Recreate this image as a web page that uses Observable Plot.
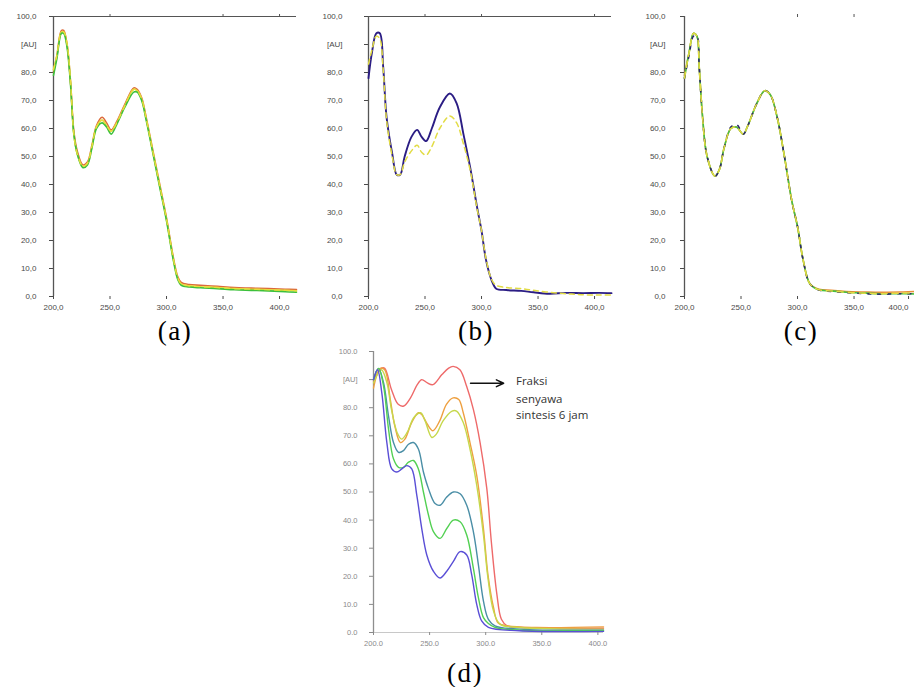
<!DOCTYPE html>
<html>
<head>
<meta charset="utf-8">
<script src="https://cdn.jsdelivr.net/npm/d3@7"></script>
<script src="https://cdn.jsdelivr.net/npm/@observablehq/plot@0.6"></script>
<style>
  html, body { margin: 0; padding: 0; background: #fff; overflow: hidden; }
  #page { position: relative; width: 914px; height: 687px; overflow: hidden; background: #fff; }
  .panel { position: absolute; overflow: hidden; }
  .panel svg { max-width: none !important; }
  .cap { position: absolute; font-family: "Liberation Serif", "Times New Roman", serif; font-size: 27px; color: #000; transform: translate(-50%, -50%); letter-spacing: 1.5px; white-space: nowrap; }
</style>
</head>
<body>
<div id="page">
  <div class="panel" id="pa" style="left:0px;top:0px;width:300px;height:320px"></div>
  <div class="panel" id="pb" style="left:310px;top:0px;width:305px;height:320px"></div>
  <div class="panel" id="pc" style="left:625px;top:0px;width:289px;height:320px"></div>
  <div class="panel" id="pd" style="left:320px;top:344px;width:296px;height:306px"></div>
  <div class="cap" style="left:175px;top:331px">(a)</div>
  <div class="cap" style="left:476px;top:331px">(b)</div>
  <div class="cap" style="left:801px;top:331px">(c)</div>
  <div class="cap" style="left:465px;top:673px">(d)</div>
</div>
<script>
// ---------- tick values ----------
const yTicks = [0, 10, 20, 30, 40, 50, 60, 70, 80, 90, 100];
const xTicks = [200, 250, 300, 350, 400];
const auTick = 90;

// ---------- panel (a) ----------
const a_wl     = [200,203,207,209,212,215,218,221,226,230,234,238,243,247,251,256,263,271,274,278,282,288,294,300,306,310,313,320,330,345,360,375,390,405,415];
const a_red    = [80,86,95,95,90,77,59,52,47,48,54,61,64,62,59.5,62.5,68.5,74.5,74,71,64,52,40,28,14,7,5,4.3,4,3.6,3.2,3,2.8,2.6,2.5];
const a_yellow = [81,86,94.5,94.5,90,77,58,51,46.5,47.5,53.5,60.5,63,61,59,62,68,74,73.5,70.5,63.5,51.5,39.5,27.5,13.5,6.5,4.5,3.8,3.5,3.2,2.8,2.6,2.4,2.2,2];
const a_green  = [79,85,94,94,89,76,58,51,46,47,53,60,62,60.5,58,61.5,67.5,73,73,70,63,51,39,27,13,6,4,3.4,3.1,2.8,2.4,2.2,2.0,1.7,1.5];

// ---------- panel (b) ----------
const b_wl     = [200,203,207,210,213,216,221,225,228,232,238,243,247,251,256,263,272,278,284,290,296,300,304,309,313,322,335,346,360,375,390,404,415];
const b_blue   = [78,87,94,94,82,64,51,43.5,43.5,50,57,59.5,57,55.5,60,67.5,72.5,69,58,46,32,23.5,13,5.7,2.8,2.3,2,1.5,1,1.3,1.2,1.3,1.2];
const b_yellow = [83,88,93,92,81,63,50,43.5,43.5,48,52,54,51.5,50.5,53.5,60,64.5,62,54.5,45,31.5,23.5,13.5,6,4,3.2,2.8,2.2,1.5,1,0.6,0.5,0.5];

// ---------- panel (c) ----------
const c_wl     = [200,204,208,211,213,216,220,227,231,235,241,246,252,256,264,271,276,282,288,295,300,305,311,319,330,343,360,373,390,406,415];
const c_navy   = [78,86,93,93,82,64,50,43,45.5,53,60.5,61.5,58,61,69,73.5,72,64,51,34,25,13,4.5,2.3,1.8,1.4,1.0,0.8,1.0,1.0,1.0];
const c_green  = [78,87,94,93,82,64,50,43,45.5,53,60,60.5,58,61,69,73.5,72,64,51,34,25,13,4.5,2.4,2,1.5,1.2,1,1.0,0.9,0.9];
const c_orange = [79,87,94,93,82,64,50,43,45.5,53,60,60.5,58,61,69,73.5,72,64,51,34,25,13,4.6,2.6,2.2,1.8,1.6,1.5,1.6,1.8,1.8];
const c_yellow = [78,87,94,93,82,64,50,43,45.5,53,60,60.5,58,61,69,73.5,72,64,51,34,25,13,4.5,2.4,2,1.5,1.2,1,1.2,1.2,1.2];

// ---------- panel (d) ----------
const d_red_wl    = [200,207,210,216,222,227,233,239,243,248,253,261,267,271,277,283,289,295,301,305,310,314,319,331,360,405];
const d_red       = [89.5,94,94,86.5,81.2,80.6,83.5,88.2,90,88.8,88.2,91.8,94.1,94.7,93.5,87.6,79.4,67.6,51.2,32.4,13.5,4.7,2.4,1.8,1.5,1.5];
const d_orange_wl = [200,206,210,215,219,224,228,234,240,243,248,253,259,265,271,276,280,286,292,298,302,307,311,319,345,405];
const d_orange    = [87,94,93.5,82.9,73.5,67.6,68.8,74.7,78.2,77.6,74.1,71.8,75.3,81.2,83.5,82.9,78.2,67.6,55.9,37,20.6,8.8,3.5,2.4,1.8,2];
const d_ygreen_wl = [200,207,212,216,221,225,230,236,242,246,252,256,262,270,274,280,286,292,298,302,307,313,330,405];
const d_ygreen    = [88.8,93.5,88.8,79.4,71.2,68.8,71.2,76.5,78.2,75.3,69.4,70.6,75.3,78.8,78.8,74.7,65.3,52.4,34.7,19.4,7.6,2.9,1.8,1.2];
const d_teal_wl   = [200,204.5,209,213.4,217.8,222.3,226.7,231.2,235.6,240,244.5,249,254.9,259.3,265.3,271.2,277.2,283.1,289,293.5,298,302.4,308.3,330,405];
const d_teal      = [90,94,88.8,77,67.6,64.1,64.7,67,67.6,65.3,57.1,51.2,45.9,45.3,48.2,50,49.4,45.3,35.9,24.1,11.2,4.7,2.4,1.2,0.8];
const d_green_wl  = [200,204.5,209,213.4,217.8,222.3,226.7,231.2,235.6,240,244.5,249,253.4,259.3,265.3,271.2,277.2,283.1,289,293.5,298,302.4,308.3,330,405];
const d_green     = [90,94,87.6,72.4,61.8,58.8,58.8,60.6,61.2,58.2,50,41.8,35.9,33.5,37,40,39.4,34.7,22.9,12.4,5.3,3.2,1.8,0.8,0.6];
const d_blue_wl   = [200,203.6,207.4,211.9,216.3,220.8,225.2,229.7,234.1,238.6,243,247.5,253.4,259.3,265.3,271.2,277.2,283.1,287.5,292,296.4,302.4,330,405];
const d_blue      = [90,93.5,85.3,67.6,58.2,57.1,58.2,59.4,58.2,48.8,37,27.6,21.8,19.4,21.8,25.3,28.8,27.6,20.6,10,4.1,1.8,0.6,0.4];

// annotation in panel (d)
const annoArrow = [{x1: 286.5, x2: 316, y: 88.7}];
const annoText  = [
  {x: 327, y: 89.3, t: "Fraksi"},
  {x: 327, y: 82.9, t: "senyawa"},
  {x: 327, y: 77.2, t: "sintesis 6 jam"}
];

// ---------- helpers ----------
const rows = (wl, v) => wl.map((w, i) => ({w, v: v[i]}));
const fmtComma = d => d === auTick ? "[AU]" : d.toFixed(1).replace(".", ",");
const fmtDot   = d => d === auTick ? "[AU]" : d.toFixed(1);
const xComma   = d => d.toFixed(1).replace(".", ",");

function smallPanel({el, width, plotWidth, marginLeft, tickPadding, topRule, topTicks, series, lastEnd}) {
  const pw = plotWidth || width;
  const mainTicks = lastEnd != null ? xTicks.slice(0, -1) : xTicks;
  const marks = [
    Plot.axisY({ticks: yTicks, tickFormat: fmtComma, tickSize: 4, tickPadding, label: null, color: "#4a4a4a"}),
    Plot.axisX({ticks: mainTicks, tickFormat: xComma, tickSize: 3, tickPadding: 5, label: null, color: "#4a4a4a"}),
    Plot.axisX({anchor: "top", ticks: topTicks, tickSize: 3, tickFormat: () => "", label: null, color: "#555"}),
    Plot.ruleX([200], {stroke: "#555", strokeWidth: 1.3})
  ];
  if (lastEnd != null) {
    marks.push(Plot.axisX({ticks: xTicks.slice(-1), tickFormat: xComma, tickSize: 3, tickPadding: 5, label: null, color: "#4a4a4a", textAnchor: "end", dx: lastEnd}));
  }
  if (topRule) marks.push(Plot.ruleY([100], {stroke: "#555", strokeWidth: 1.2}));
  for (const s of series) {
    marks.push(Plot.line(rows(s.wl, s.v), {x: "w", y: "v", stroke: s.color, strokeWidth: s.w || 1.6, strokeDasharray: s.dash, curve: "catmull-rom"}));
  }
  const p = Plot.plot({
    width: pw, height: 320,
    marginLeft, marginRight: pw - marginLeft - 243, marginTop: 16, marginBottom: 24,
    x: {domain: [200, 415]},
    y: {domain: [0, 100]},
    style: {background: "transparent", fontFamily: "'Liberation Sans', Arial, sans-serif", fontSize: "8px"},
    marks
  });
  p.style.maxWidth = "none";
  document.getElementById(el).appendChild(p);
}

smallPanel({
  el: "pa", width: 300, marginLeft: 53, tickPadding: 13, topRule: true, topTicks: [250, 350, 400],
  series: [
    {wl: a_wl, v: a_red, color: "#dc6a3a"},
    {wl: a_wl, v: a_yellow, color: "#e6dc3c"},
    {wl: a_wl, v: a_green, color: "#3cc03c"},
    {wl: a_wl, v: a_yellow, color: "#e6dc3c", dash: "5,5", w: 1.4}
  ]
});

smallPanel({
  el: "pb", width: 305, marginLeft: 58, tickPadding: 22, topRule: true, topTicks: [250, 300, 400],
  series: [
    {wl: b_wl, v: b_blue, color: "#2b1d84", w: 1.9},
    {wl: b_wl, v: b_yellow, color: "#e2dc44", dash: "5,4", w: 1.5}
  ]
});

smallPanel({
  el: "pc", width: 289, plotWidth: 307, marginLeft: 59, tickPadding: 15, topRule: false, topTicks: [300, 350], lastEnd: -2,
  series: [
    {wl: c_wl, v: c_orange, color: "#e8903a"},
    {wl: c_wl, v: c_green, color: "#44c044"},
    {wl: c_wl, v: c_navy, color: "#2d2a6a", dash: "3,7", w: 1.6},
    {wl: c_wl, v: c_yellow, color: "#e2da40", dash: "6,5", w: 1.5}
  ]
});

// panel (d)
{
  const dSeries = [
    {wl: d_red_wl, v: d_red, color: "#ee6a6a"},
    {wl: d_orange_wl, v: d_orange, color: "#eea040"},
    {wl: d_ygreen_wl, v: d_ygreen, color: "#c6d84c"},
    {wl: d_teal_wl, v: d_teal, color: "#4a8ea6"},
    {wl: d_green_wl, v: d_green, color: "#52d052"},
    {wl: d_blue_wl, v: d_blue, color: "#5a4fd6"}
  ];
  const marks = [
    Plot.ruleY([0], {stroke: "#c8c8c8", strokeWidth: 1.2}),
    Plot.axisY({ticks: yTicks, tickFormat: fmtDot, tickSize: 4, tickPadding: 12, label: null, color: "#8a8a8a"}),
    Plot.axisX({ticks: xTicks, tickFormat: d => d.toFixed(1), tickSize: 3, tickPadding: 5, label: null, color: "#8a8a8a"}),
    Plot.ruleX([200], {stroke: "#8e8e8e", strokeWidth: 1.3}),
    ...dSeries.map(s => Plot.line(rows(s.wl, s.v), {x: "w", y: "v", stroke: s.color, strokeWidth: 1.4, curve: "catmull-rom"})),
    Plot.arrow(annoArrow, {x1: "x1", x2: "x2", y1: "y", y2: "y", stroke: "#111", strokeWidth: 1.5, headLength: 8, headAngle: 50}),
    Plot.text(annoText, {x: "x", y: "y", text: "t", textAnchor: "start", fontSize: 11.5, fill: "#333", fontFamily: "'Open Sans', 'Noto Sans', sans-serif"})
  ];
  const p = Plot.plot({
    width: 296, height: 306,
    marginLeft: 53, marginRight: 13, marginTop: 7, marginBottom: 18,
    x: {domain: [200, 405]},
    y: {domain: [0, 100]},
    style: {background: "transparent", fontFamily: "'Liberation Sans', Arial, sans-serif", fontSize: "7.5px"},
    marks
  });
  p.style.maxWidth = "none";
  document.getElementById("pd").appendChild(p);
}
</script>
</body>
</html>
